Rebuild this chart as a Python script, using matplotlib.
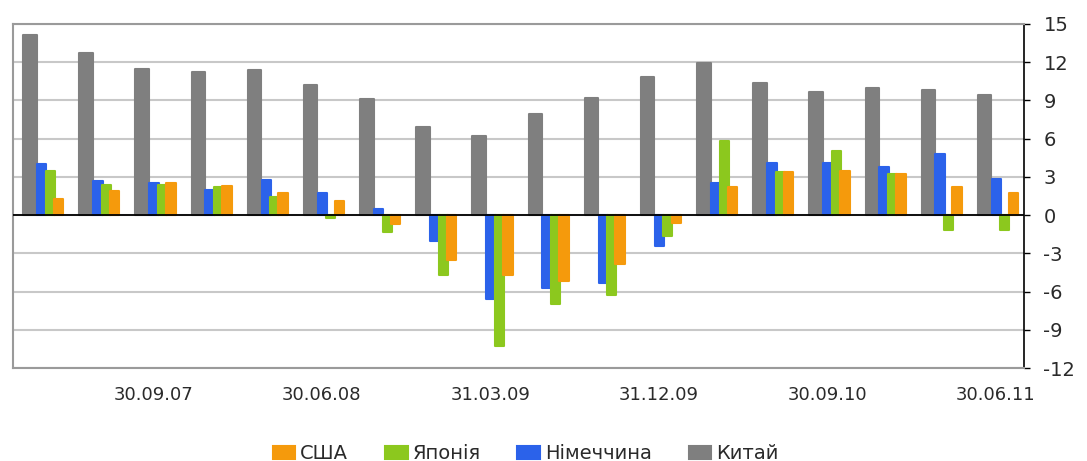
import numpy as np
from matplotlib import pyplot as plt

plt.rcParams["font.family"] = ["DejaVu Sans"]
plt.rcParams["axes.unicode_minus"] = False

# quarterly values, 31.03.07 .. 30.06.11
quarters = ["31.03.07", "30.06.07", "30.09.07", "31.12.07", "31.03.08", "30.06.08",
            "30.09.08", "31.12.08", "31.03.09", "30.06.09", "30.09.09", "31.12.09",
            "31.03.10", "30.06.10", "30.09.10", "31.12.10", "31.03.11", "30.06.11"]
china   = [14.1, 12.7, 11.5, 11.2, 11.4, 10.2, 9.1, 6.95, 6.2, 7.9, 9.2, 10.8,
           11.9, 10.35, 9.65, 9.95, 9.8, 9.4]
germany = [4.0, 2.7, 2.5, 2.0, 2.75, 1.7, 0.5, -2.0, -6.6, -5.75, -5.3, -2.45,
           2.5, 4.1, 4.1, 3.8, 4.8, 2.8]
japan   = [3.5, 2.4, 2.4, 2.2, 1.45, -0.25, -1.3, -4.7, -10.3, -7.0, -6.3, -1.65,
           5.85, 3.4, 5.0, 3.2, -1.2, -1.2]
usa     = [1.25, 1.9, 2.55, 2.3, 1.75, 1.1, -0.7, -3.5, -4.7, -5.15, -3.85, -0.65,
           2.2, 3.35, 3.5, 3.25, 2.2, 1.7]

x = np.arange(len(quarters))

fig = plt.figure(figsize=(10.87, 4.61), dpi=100)
ax = fig.add_axes([0.012, 0.2017, 0.93, 0.7463])

# bars overlap inside each group, gray one in the back
series = [
    (china,   -0.20, 0.24, "#7f7f7f", "Китай"),
    (germany,  0.01, 0.17, "#2b62ea", "Німеччина"),
    (japan,    0.16, 0.16, "#8cc81e", "Японія"),
    (usa,      0.31, 0.17, "#f59a0c", "США"),
]
handles = {}
for vals, off, w, col, name in series:
    b = ax.bar(x + off, vals, width=w, color=col, edgecolor=col, linewidth=1.5,
               joinstyle="round", label=name, zorder=3)
    handles[name] = b

ax.set_xlim(-0.5, len(quarters) - 0.5)
ax.set_ylim(-12, 15)
ax.set_yticks(range(-12, 16, 3))
ax.yaxis.tick_right()
ax.tick_params(axis="y", direction="out", length=4, width=1, colors="black",
               labelsize=14, pad=10)
for t in ax.get_yticklabels():
    t.set_color("#2a2a2a")

ax.set_xticks(x[2::3])
ax.set_xticklabels(quarters[2::3], fontsize=13, color="#2a2a2a")
ax.tick_params(axis="x", length=0, pad=13)

ax.grid(axis="y", color="#c8c8c8", linewidth=1.5, zorder=0)
ax.axhline(0, color="black", linewidth=1.3, zorder=4)

for side in ("top", "left", "bottom"):
    ax.spines[side].set_color("#9a9a9a")
    ax.spines[side].set_linewidth(1.5)
ax.spines["right"].set_color("black")
ax.spines["right"].set_linewidth(1.2)

order = ["США", "Японія", "Німеччина", "Китай"]
leg = fig.legend([handles[n] for n in order], order, loc="center",
                 bbox_to_anchor=(0.4835, 0.016), ncol=4, frameon=False, fontsize=14,
                 handlelength=1.15, handleheight=0.7, handletextpad=0.25,
                 columnspacing=1.9)
for t in leg.get_texts():
    t.set_color("#2a2a2a")

plt.savefig("out.png")
